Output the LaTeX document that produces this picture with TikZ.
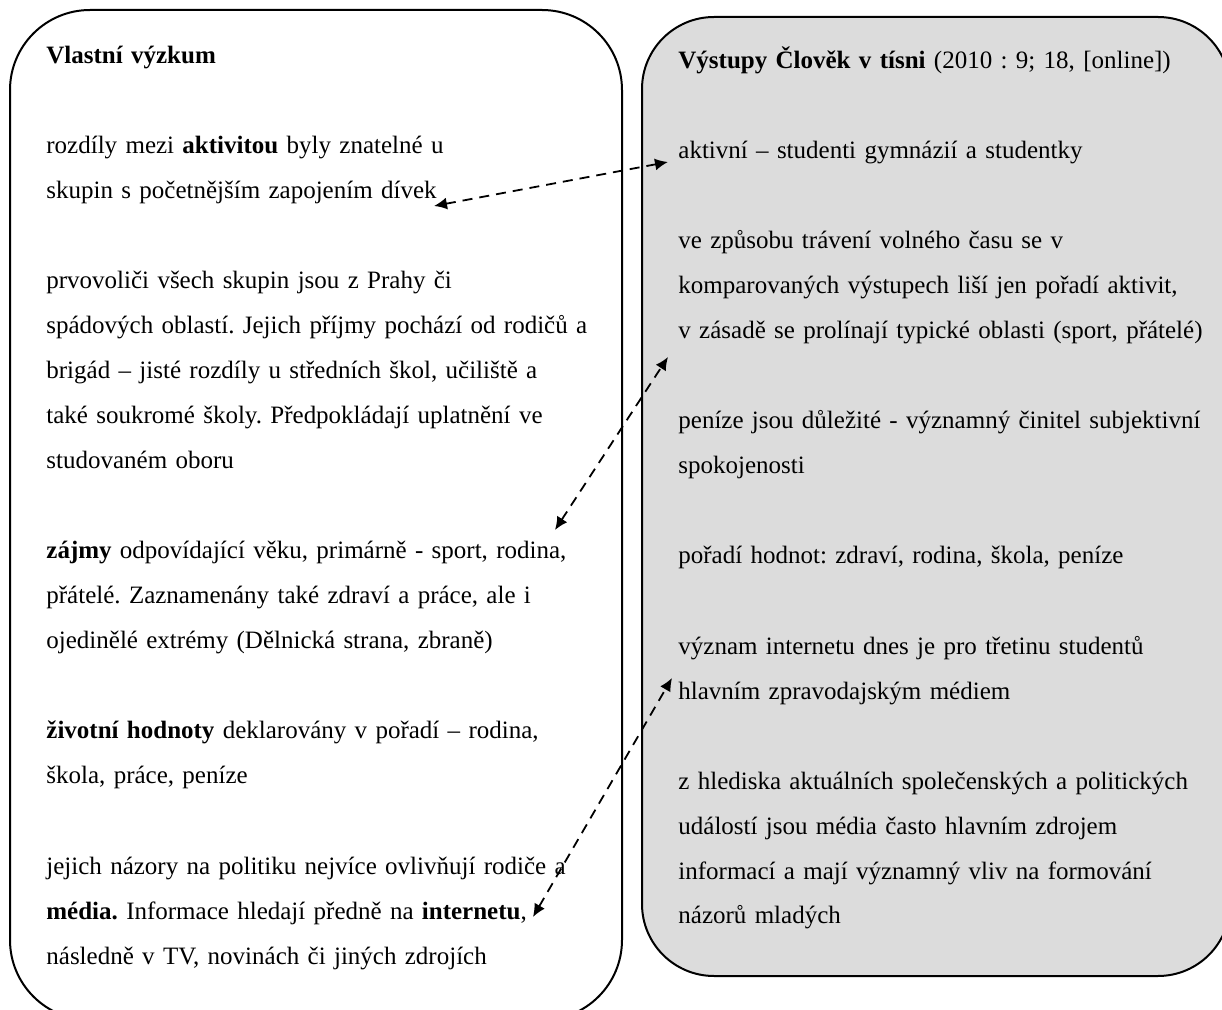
\documentclass[tikz,border=0pt]{standalone}
\usepackage{fontspec}
\setmainfont{Liberation Serif}
\usetikzlibrary{arrows.meta}
\definecolor{boxgray}{RGB}{220,220,220}
\frenchspacing
\tikzset{
  frame/.style={draw, line width=1pt},
  txt/.style={anchor=base west, inner sep=0pt, text width=320pt, align=left,
    font=\fontsize{12.5}{22.5}\selectfont},
  link/.style={line width=0.9pt, dash pattern=on 5pt off 3.5pt,
    {Latex[length=6.5pt,width=6pt]}-{Latex[length=6.5pt,width=6pt]}}
}
\begin{document}
\begin{tikzpicture}[x=0.5pt, y=-0.5pt]
  \useasboundingbox (0,0) rectangle (1222,1010);
  \clip (0,0) rectangle (1222,1010);

  % Boxes
  \draw[frame, rounded corners=40pt] (10,10) rectangle (622,1020);
  \draw[frame, rounded corners=36pt, fill=boxgray] (642,17) rectangle (1230,976);

  % Left column
  \node[txt] at (46,64) (own) {\textbf{Vlastní výzkum}};
  \node[txt] at (46,154) (activity) {rozdíly mezi \textbf{aktivitou} byly znatelné u\\
    skupin s početnějším zapojením dívek};
  \node[txt] at (46,289) (voters) {prvovoliči všech skupin jsou z Prahy či\\
    spádových oblastí. Jejich příjmy pochází od rodičů a\\
    brigád – jisté rozdíly u středních škol, učiliště a\\
    také soukromé školy. Předpokládají uplatnění ve\\
    studovaném oboru};
  \node[txt] at (46,559) (interests) {\textbf{zájmy} odpovídající věku, primárně - sport, rodina,\\
    přátelé. Zaznamenány také zdraví a práce, ale i\\
    ojedinělé extrémy (Dělnická strana, zbraně)};
  \node[txt] at (46,739) (values) {\textbf{životní hodnoty} deklarovány v pořadí – rodina,\\
    škola, práce, peníze};
  \node[txt] at (46,874) (media) {jejich názory na politiku nejvíce ovlivňují rodiče a\\
    \textbf{média.} Informace hledají předně na \textbf{internetu},\\
    následně v TV, novinách či jiných zdrojích};

  % Right column
  \node[txt] at (678,69) (pin) {\textbf{Výstupy Člověk v tísni} (2010 : 9; 18, [online])};
  \node[txt] at (678,159) (pinactive) {aktivní – studenti gymnázií a studentky};
  \node[txt] at (678,249) (pinfree) {ve způsobu trávení volného času se v\\
    komparovaných výstupech liší jen pořadí aktivit,\\
    v zásadě se prolínají typické oblasti (sport, přátelé)};
  \node[txt] at (678,429) (pinmoney) {peníze jsou důležité - významný činitel subjektivní\\
    spokojenosti};
  \node[txt] at (678,564) (pinvalues) {pořadí hodnot: zdraví, rodina, škola, peníze};
  \node[txt] at (678,654) (pinnet) {význam internetu dnes je pro třetinu studentů\\
    hlavním zpravodajským médiem};
  \node[txt] at (678,789) (pinmedia) {z hlediska aktuálních společenských a politických\\
    událostí jsou média často hlavním zdrojem\\
    informací a mají významný vliv na formování\\
    názorů mladých};

  % Links
  \coordinate (l1) at (434,206);
  \coordinate (r1) at (668,162);
  \coordinate (l2) at (555,530);
  \coordinate (r2) at (668,357);
  \coordinate (l3) at (533,917);
  \coordinate (r3) at (672,678);
  \draw[link] (l1) -- (r1);
  \draw[link] (l2) -- (r2);
  \draw[link] (l3) -- (r3);
\end{tikzpicture}
\end{document}
